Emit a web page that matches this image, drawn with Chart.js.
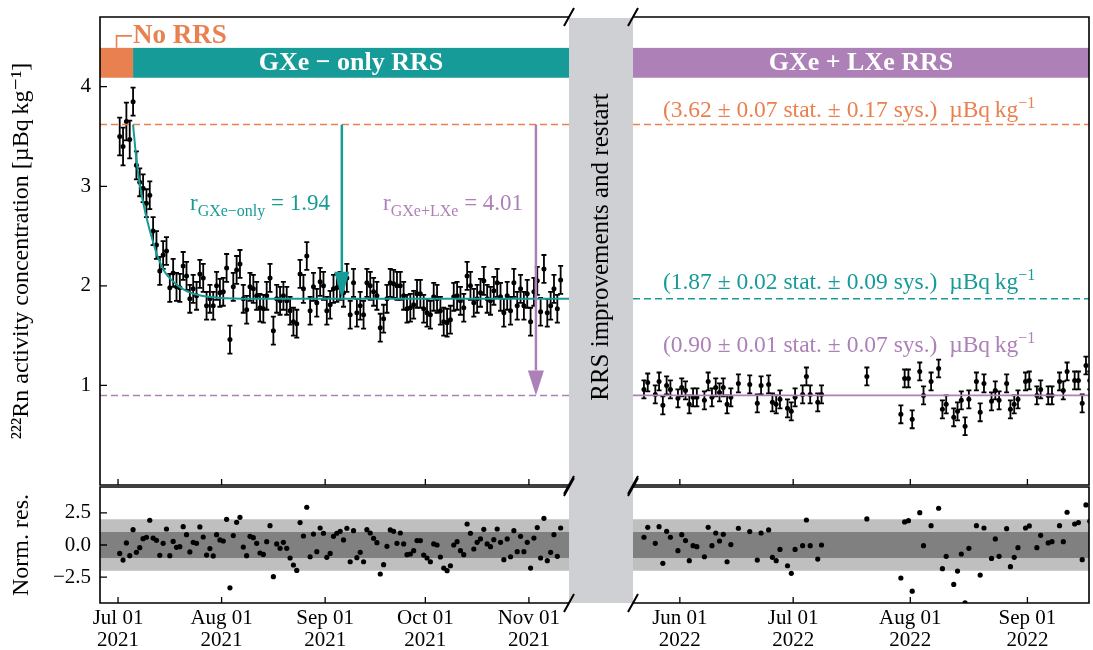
<!DOCTYPE html>
<html>
<head>
<meta charset="utf-8">
<script src="https://cdn.jsdelivr.net/npm/chart.js@4.4.1/dist/chart.umd.min.js"></script>
<style>
  html, body { margin: 0; padding: 0; background: #fff; }
  #wrap { position: relative; width: 1093px; height: 650px; }
  #wrap canvas { position: absolute; left: 0; top: 0; }
</style>
</head>
<body>
<div id="wrap">
  <canvas id="topLeft" width="1093" height="650"></canvas>
  <canvas id="topRight" width="1093" height="650"></canvas>
  <canvas id="resLeft" width="1093" height="650"></canvas>
  <canvas id="resRight" width="1093" height="650"></canvas>
</div>
<script>
// x values are days counted from 2021-07-01
const leftRange = [-5.4, 135];
const rightRange = [322.6, 443.3];
const leftTickDays = [0, 31, 62, 92, 123];
const leftTickLabels = [['Jul 01', '2021'], ['Aug 01', '2021'], ['Sep 01', '2021'], ['Oct 01', '2021'], ['Nov 01', '2021']];
const rightTickDays = [335, 365, 396, 427];
const rightTickLabels = [['Jun 01', '2022'], ['Jul 01', '2022'], ['Aug 01', '2022'], ['Sep 01', '2022']];
const concTicks = [1, 2, 3, 4];
const concTickLabels = ['1', '2', '3', '4'];
const resTicks = [-2.5, 0, 2.5];
const resTickLabels = ['\u22122.5', '0.0', '2.5'];

// 2021 run (No RRS, then GXe-only RRS)
const leftDays = [
  0.5, 1.5, 2.5, 3.5, 4.5, 5.5, 6.5, 7.5, 8.5, 9.5,
  10.5, 11.5, 12.5, 13.5, 14.5, 15.5, 16.5, 17.5, 18.5, 19.5,
  20.5, 21.5, 22.5, 23.5, 24.5, 25.5, 26.5, 27.5, 28.5, 29.5,
  30.5, 31.5, 32.5, 33.5, 34.5, 35.5, 36.5, 37.5, 38.5, 39.5,
  40.5, 41.5, 42.5, 43.5, 44.5, 45.5, 46.5, 47.5, 48.5, 49.5,
  50.5, 51.5, 52.5, 53.5, 54.5, 55.5, 56.5, 57.5, 58.5, 59.5,
  60.5, 61.5, 62.5, 63.5, 64.5, 65.5, 66.5, 67.5, 68.5, 69.5,
  70.5, 71.5, 72.5, 73.5, 74.5, 75.5, 76.5, 77.5, 78.5, 79.5,
  80.5, 81.5, 82.5, 83.5, 84.5, 85.5, 86.5, 87.5, 88.5, 89.5,
  90.5, 91.5, 92.5, 93.5, 94.5, 95.5, 96.5, 97.5, 98.5, 99.5,
  100.5, 101.5, 102.5, 103.5, 104.5, 105.5, 106.5, 107.5, 108.5, 109.5,
  110.5, 111.5, 112.5, 113.5, 114.5, 115.5, 116.5, 117.5, 118.5, 119.5,
  120.5, 121.5, 122.5, 123.5, 124.5, 125.5, 126.5, 127.5, 128.5, 129.5,
  130.5, 131.5, 132.5
];
const leftValues = [
  3.50, 3.40, 3.65, 3.47, 3.85, 3.21, 3.04, 2.98, 2.83, 2.91,
  2.55, 2.41, 2.15, 2.31, 2.35, 1.98, 2.13, 1.99, 1.98, 2.20,
  2.10, 1.87, 1.97, 1.90, 2.12, 2.08, 1.80, 1.87, 1.80, 2.00,
  1.93, 1.94, 2.18, 1.46, 1.99, 2.16, 2.22, 1.87, 1.76, 1.99,
  1.97, 1.90, 1.78, 1.77, 1.90, 2.08, 1.55, 1.87, 1.85, 1.90,
  1.85, 1.75, 1.64, 1.62, 2.12, 1.97, 2.30, 1.75, 1.99, 1.83,
  2.04, 2.00, 1.75, 1.81, 1.97, 1.98, 2.00, 1.93, 2.08, 1.71,
  2.03, 1.73, 1.80, 1.71, 2.03, 2.00, 1.94, 1.90, 1.58, 1.67,
  1.87, 2.03, 2.02, 2.00, 2.00, 1.90, 1.77, 1.78, 1.81, 1.92,
  1.92, 1.77, 1.73, 1.71, 1.89, 1.87, 1.75, 1.64, 1.63, 1.66,
  1.89, 1.90, 1.85, 1.78, 2.10, 2.00, 1.83, 1.87, 1.93, 2.05,
  1.87, 1.85, 1.95, 2.03, 1.89, 1.73, 1.90, 1.75, 2.03, 1.80,
  1.97, 1.80, 1.92, 1.64, 1.94, 2.05, 1.74, 2.17, 1.73, 1.80,
  1.97, 1.77, 2.06
];
const leftResiduals = [
  -0.65, -1.17, 0.16, -0.83, 1.19, -0.57, -0.21, 0.49, 0.60, 1.92,
  0.54, 0.36, -0.80, 0.13, 1.24, -0.83, 0.28, -0.18, -0.13, 1.42,
  0.80, -0.54, 0.21, 0.13, 1.40, 0.62, -0.78, -0.28, -0.85, 0.80,
  0.39, 0.31, 1.99, -3.32, 0.73, 1.76, 2.15, -0.16, -0.83, 0.67,
  0.57, 0.13, -0.62, -0.73, 0.26, 1.50, -2.46, 0.08, -0.26, 0.21,
  -0.26, -1.01, -1.55, -1.97, 1.74, 0.70, 2.93, -0.91, 0.85, -0.52,
  1.32, 0.91, -0.96, -0.65, 0.67, 0.91, 1.06, 0.39, 1.30, -1.30,
  1.11, -0.98, -0.57, -1.30, 1.19, 0.93, 0.52, 0.18, -2.25, -1.53,
  -0.10, 1.17, 1.06, 0.13, 0.93, 0.08, -0.75, -0.70, -0.44, 0.34,
  0.34, -0.78, -1.01, -1.30, 0.08, 0.00, -0.93, -1.79, -1.99, -1.61,
  0.00, 0.26, -0.44, -0.75, 1.63, 0.91, -0.31, 0.21, 0.47, 1.22,
  0.08, -0.13, 0.41, 1.24, 0.21, -1.14, 0.47, -0.91, 1.11, -0.52,
  0.67, -0.52, 0.21, -1.79, 0.54, 1.35, -1.01, 2.07, -1.22, -0.57,
  0.80, -0.88, 1.32
];

// 2022 run (GXe + LXe RRS)
const rightDays = [
  325.5, 326.5, 328.5, 329.5, 330.5, 331.5, 332.5, 334.5, 335.5, 336.5,
  337.5, 338.5, 339.5, 341.5, 342.5, 343.5, 344.5, 345.5, 346.5, 347.5,
  348.5, 350.5, 353.5, 355.5, 356.5, 358.5, 359.5, 360.5, 361.5, 363.5,
  364.5, 365.5, 367.5, 368.5, 369.5, 371.5, 372.5, 384.5, 393.5, 394.5,
  395.5, 396.5, 398.5, 399.5, 401.5, 403.5, 404.5, 405.5, 407.5, 408.5,
  409.5, 410.5, 411.5, 413.5, 414.5, 415.5, 417.5, 418.5, 419.5, 421.5,
  422.5, 423.5, 424.5, 426.5, 427.5, 429.5, 430.5, 432.5, 433.5, 435.5,
  436.5, 437.5, 439.5, 440.5, 441.5, 442.5, 443.5
];
const rightValues = [
  0.96, 1.03, 0.91, 1.04, 0.80, 1.00, 0.96, 0.87, 0.98, 0.95,
  0.81, 0.88, 0.88, 0.85, 1.04, 0.88, 0.98, 0.93, 0.98, 0.81,
  0.88, 1.02, 1.01, 0.82, 1.00, 1.01, 0.83, 0.81, 0.86, 0.77,
  0.74, 0.88, 0.91, 1.09, 0.91, 0.83, 0.91, 1.09, 0.71, 1.07,
  1.07, 0.66, 1.14, 0.90, 1.04, 1.17, 0.76, 0.81, 0.68, 0.74,
  0.85, 0.59, 0.86, 1.04, 0.73, 1.02, 0.84, 0.95, 0.85, 1.02,
  0.76, 0.81, 0.86, 1.04, 1.05, 0.90, 0.96, 0.90, 0.90, 1.04,
  0.95, 1.14, 1.05, 1.05, 0.82, 1.20, 1.05
];
const rightResiduals = [
  0.60, 1.37, 0.13, 1.42, -1.42, 1.06, 0.60, -0.44, 0.80, 0.34,
  -1.22, -0.05, -0.13, -0.91, 1.37, -0.05, 0.93, 0.31, 0.83, -1.30,
  0.03, 1.30, 1.04, -1.17, 0.93, 1.17, -0.96, -1.22, -0.34, -1.61,
  -2.20, -0.34, -0.05, 1.94, -0.05, -1.09, 0.00, 2.02, -2.56, 1.79,
  1.89, -3.58, 2.51, -0.05, 1.50, 2.85, -1.84, -0.88, -3.06, -2.02,
  -0.70, -4.48, -0.26, 1.50, -2.33, 1.32, -1.04, 0.47, -0.88, 1.27,
  -1.68, -0.96, -0.21, 1.32, 1.48, -0.21, 0.75, 0.16, 0.26, 1.50,
  0.26, 2.54, 1.63, 1.74, -1.14, 3.11, 1.84
];

// typical error bar half-lengths per phase
const noRrsErr = 0.19;
const gxeErr = 0.14;
const lxeErr = 0.09;

// GXe-only fit curve
const fitDays = [4.5, 5.5, 6.5, 7.5, 9, 10.5, 12, 14, 16, 18, 21, 25, 30, 40, 135];
const fitValues = [3.62, 3.27, 3.02, 2.84, 2.62, 2.44, 2.28, 2.14, 2.06, 2.00, 1.94, 1.90, 1.88, 1.87, 1.87];

const gxeStart = 4.5;
const phaseNames = ['No RRS', 'GXe \u2212 only RRS', 'GXe + LXe RRS'];
const levelValues = [3.62, 1.87, 0.90];
const levelStat = ['0.07', '0.02', '0.01'];
const levelSys = ['0.17', '0.09', '0.07'];
const reductionFactors = ['1.94', '4.01'];
const sigmaBands = [2, 1];

const ORANGE = '#e9804f', TEAL = '#179b98', PURPLE = '#ad80b8', GAP = '#cfd0d4';
const FONT = '"Liberation Serif", "DejaVu Serif", serif';
Chart.defaults.font.family = FONT;
Chart.defaults.color = '#000';

// panel frame in pixels
const PANEL = { left: 100, gapL: 569, gapR: 633, right: 1092, top: 17, mid: 485, resTop: 487, bottom: 603 };

const pts = (xs, ys) => xs.map((x, i) => ({ x, y: ys[i] }));
const hline = (range, v) => [{ x: range[0], y: v }, { x: range[1], y: v }];

function richText(ctx, parts, x, y, align, size, color, weight) {
  const fontOf = k => `${weight || ''} ${k ? Math.round(size * 0.7) : size}px ${FONT}`;
  let w = 0;
  parts.forEach(([t, k]) => { ctx.font = fontOf(k); w += ctx.measureText(t).width; });
  let cx = align === 'center' ? x - w / 2 : align === 'right' ? x - w : x;
  ctx.fillStyle = color;
  ctx.textAlign = 'left';
  ctx.textBaseline = 'alphabetic';
  parts.forEach(([t, k]) => {
    ctx.font = fontOf(k);
    const dy = k === 1 ? -size * 0.38 : k === -1 ? size * 0.25 : 0;
    ctx.fillText(t, cx, y + dy);
    cx += ctx.measureText(t).width;
  });
}

function arrowDown(ctx, x, y0, y1, color, headLen, headW) {
  ctx.strokeStyle = color; ctx.fillStyle = color; ctx.lineWidth = 2.5;
  ctx.beginPath(); ctx.moveTo(x, y0); ctx.lineTo(x, y1 - headLen); ctx.stroke();
  ctx.beginPath();
  ctx.moveTo(x - headW / 2, y1 - headLen);
  ctx.lineTo(x + headW / 2, y1 - headLen);
  ctx.lineTo(x, y1);
  ctx.closePath(); ctx.fill();
}

// spines and inward ticks
const frame = {
  id: 'frame',
  afterDraw(chart, args, o) {
    const { ctx, chartArea: a } = chart;
    ctx.save();
    ctx.strokeStyle = '#000'; ctx.lineWidth = 1.6;
    ctx.beginPath();
    if (o.sides.includes('left')) { ctx.moveTo(a.left, a.top - 0.8); ctx.lineTo(a.left, a.bottom + 0.8); }
    if (o.sides.includes('right')) { ctx.moveTo(a.right, a.top - 0.8); ctx.lineTo(a.right, a.bottom + 0.8); }
    if (o.sides.includes('top')) { ctx.moveTo(a.left, a.top); ctx.lineTo(a.right, a.top); }
    if (o.sides.includes('bottom')) { ctx.moveTo(a.left, a.bottom); ctx.lineTo(a.right, a.bottom); }
    ctx.stroke();
    ctx.lineWidth = 1.3;
    ctx.beginPath();
    (o.xTicks || []).forEach(v => {
      const px = chart.scales.x.getPixelForValue(v);
      ctx.moveTo(px, a.bottom); ctx.lineTo(px, a.bottom - 6);
    });
    (o.yTicks || []).forEach(v => {
      const py = chart.scales.y.getPixelForValue(v);
      ctx.moveTo(a.left, py); ctx.lineTo(a.left + 7, py);
    });
    ctx.stroke();
    ctx.restore();
  }
};

const errorBars = {
  id: 'errorBars',
  beforeDatasetsDraw(chart) {
    const { ctx, chartArea: a } = chart, sx = chart.scales.x, sy = chart.scales.y;
    ctx.save();
    ctx.beginPath(); ctx.rect(a.left, a.top, a.right - a.left, a.bottom - a.top); ctx.clip();
    ctx.strokeStyle = '#000'; ctx.lineWidth = 1.8;
    chart.data.datasets.forEach(ds => {
      if (!ds.yErr) return;
      ds.data.forEach(p => {
        const e = ds.yErr(p);
        const px = sx.getPixelForValue(p.x);
        const y0 = sy.getPixelForValue(p.y - e), y1 = sy.getPixelForValue(p.y + e);
        ctx.beginPath();
        ctx.moveTo(px, y0); ctx.lineTo(px, y1);
        ctx.moveTo(px - 2.5, y0); ctx.lineTo(px + 2.5, y0);
        ctx.moveTo(px - 2.5, y1); ctx.lineTo(px + 2.5, y1);
        ctx.stroke();
      });
    });
    ctx.restore();
  }
};

const phaseBar = [4.09, 4.39];

const levelText = i => [[`(${levelValues[i].toFixed(2)} \u00b1 ${levelStat[i]} stat. \u00b1 ${levelSys[i]} sys.)  \u00b5Bq\u2009kg`, 0], ['\u22121', 1]];

const topLeftDecor = {
  id: 'topLeftDecor',
  afterDatasetsDraw(chart) {
    const { ctx, chartArea: a } = chart, sx = chart.scales.x, sy = chart.scales.y;
    const yTop = sy.getPixelForValue(phaseBar[1]), yBot = sy.getPixelForValue(phaseBar[0]);
    const xSplit = sx.getPixelForValue(gxeStart);
    ctx.save();
    ctx.fillStyle = ORANGE; ctx.fillRect(a.left, yTop, xSplit - a.left, yBot - yTop);
    ctx.fillStyle = TEAL; ctx.fillRect(xSplit, yTop, a.right - xSplit, yBot - yTop);
    richText(ctx, [[phaseNames[1], 0]], (xSplit + a.right) / 2, yTop + 22, 'center', 26, '#fff', 'bold');

    const xMid = (a.left + xSplit) / 2;
    ctx.strokeStyle = ORANGE; ctx.lineWidth = 1.6;
    ctx.beginPath(); ctx.moveTo(xMid, yTop); ctx.lineTo(xMid, yTop - 12); ctx.lineTo(xSplit - 1, yTop - 12); ctx.stroke();
    richText(ctx, [[phaseNames[0], 0]], xSplit, yTop - 5, 'left', 27, ORANGE, 'bold');

    arrowDown(ctx, sx.getPixelForValue(67), sy.getPixelForValue(levelValues[0]), sy.getPixelForValue(levelValues[1]), TEAL, 27, 15);
    arrowDown(ctx, sx.getPixelForValue(125.1), sy.getPixelForValue(levelValues[0]), sy.getPixelForValue(levelValues[2]), PURPLE, 25, 16);

    richText(ctx, [['r', 0], ['GXe\u2212only', -1], [' = ' + reductionFactors[0], 0]],
      sx.getPixelForValue(42.5), sy.getPixelForValue(2.76), 'center', 23, TEAL);
    richText(ctx, [['r', 0], ['GXe+LXe', -1], [' = ' + reductionFactors[1], 0]],
      sx.getPixelForValue(100.3), sy.getPixelForValue(2.76), 'center', 23, PURPLE);
    ctx.restore();
  }
};

const topRightDecor = {
  id: 'topRightDecor',
  afterDatasetsDraw(chart) {
    const { ctx, chartArea: a } = chart, sx = chart.scales.x, sy = chart.scales.y;
    const yTop = sy.getPixelForValue(phaseBar[1]), yBot = sy.getPixelForValue(phaseBar[0]);
    ctx.save();
    ctx.fillStyle = PURPLE; ctx.fillRect(a.left, yTop, a.right - a.left, yBot - yTop);
    richText(ctx, [[phaseNames[2], 0]], (a.left + a.right) / 2, yTop + 22, 'center', 26, '#fff', 'bold');
    const cx = sx.getPixelForValue(379.8);
    richText(ctx, levelText(0), cx, sy.getPixelForValue(3.70), 'center', 23.5, ORANGE);
    richText(ctx, levelText(1), cx, sy.getPixelForValue(1.97), 'center', 23.5, TEAL);
    richText(ctx, levelText(2), cx, sy.getPixelForValue(1.34), 'center', 23.5, PURPLE);
    ctx.restore();
  }
};

// gap between the two runs, drawn over everything
const gapOverlay = {
  id: 'gapOverlay',
  afterDraw(chart) {
    const ctx = chart.ctx;
    ctx.save();
    ctx.fillStyle = GAP;
    ctx.fillRect(PANEL.gapL, PANEL.top + 1, PANEL.gapR - PANEL.gapL, PANEL.bottom - PANEL.top - 1);
    ctx.strokeStyle = '#000'; ctx.lineWidth = 2;
    ctx.beginPath();
    [PANEL.top, PANEL.mid, PANEL.resTop, PANEL.bottom].forEach(yy => {
      [PANEL.gapL, PANEL.gapR].forEach(xx => {
        ctx.moveTo(xx - 5, yy + 9); ctx.lineTo(xx + 5, yy - 9);
      });
    });
    ctx.stroke();
    ctx.translate((PANEL.gapL + PANEL.gapR) / 2, 247);
    ctx.rotate(-Math.PI / 2);
    ctx.fillStyle = '#000'; ctx.font = `25px ${FONT}`;
    ctx.textAlign = 'center'; ctx.textBaseline = 'middle';
    ctx.fillText('RRS improvements and restart', 0, 0);
    ctx.restore();
  }
};

function dateAxis(range, tickDays, tickLabels) {
  return {
    type: 'linear', min: range[0], max: range[1],
    grid: { display: false, drawTicks: false }, border: { display: false },
    afterBuildTicks: s => { s.ticks = tickDays.map(v => ({ value: v })); },
    ticks: { autoSkip: false, maxRotation: 0, minRotation: 0, padding: 4, font: { size: 21, lineHeight: 1.05 }, callback: (v, i) => tickLabels[i] },
    afterFit: s => { s.height = 650 - PANEL.bottom; s.paddingLeft = 0; s.paddingRight = 0; }
  };
}
function valueAxis(min, max, tickVals, tickLabels, title) {
  return {
    type: 'linear', min, max, position: 'left',
    grid: { display: false, drawTicks: false }, border: { display: false },
    afterBuildTicks: s => { s.ticks = tickVals.map(v => ({ value: v })); },
    ticks: { autoSkip: false, padding: 9, font: { size: 21 }, callback: (v, i) => tickLabels[i] },
    title: { display: true, text: title, font: { size: 24 }, padding: { top: 7, bottom: 0 } },
    afterFit: s => { s.width = PANEL.left; s.paddingTop = 0; s.paddingBottom = 0; }
  };
}
const hidden = (min, max) => ({ type: 'linear', min, max, display: false });

function options(pad, x, y, pluginOpts) {
  return {
    responsive: false, animation: false, devicePixelRatio: 1, events: [],
    layout: { padding: pad },
    plugins: Object.assign({ legend: { display: false }, tooltip: { enabled: false } }, pluginOpts),
    scales: { x, y }
  };
}

const dots = (data, r, extra) => Object.assign({
  data, showLine: false, pointRadius: r, pointBackgroundColor: '#000', pointBorderWidth: 0, order: 5
}, extra);
const line = (data, color, dash, width, order) => ({
  data, borderColor: color, borderDash: dash, borderWidth: width, pointRadius: 0, fill: false, order
});
const band = (range, s, color, order) => ({
  data: hline(range, s), borderWidth: 0, pointRadius: 0, backgroundColor: color, fill: { value: -s }, order
});

new Chart(document.getElementById('topLeft'), {
  type: 'line',
  data: { datasets: [
    dots(pts(leftDays, leftValues), 2.5, { yErr: p => (p.x < gxeStart ? noRrsErr : gxeErr) }),
    Object.assign(line(pts(fitDays, fitValues), TEAL, [], 2, 1), { cubicInterpolationMode: 'monotone' }),
    line(hline(leftRange, levelValues[0]), ORANGE, [7, 4], 1.5, 2),
    line(hline(leftRange, levelValues[2]), PURPLE, [7, 4], 1.5, 2)
  ]},
  options: options({ left: 0, top: PANEL.top, right: 1093 - PANEL.gapL, bottom: 650 - PANEL.mid },
    hidden(leftRange[0], leftRange[1]),
    valueAxis(0, 4.7, concTicks, concTickLabels, '\u00b2\u00b2\u00b2Rn activity concentration [\u00b5Bq\u2009kg\u207b\u00b9]'),
    { frame: { sides: ['left', 'top', 'bottom'], xTicks: leftTickDays, yTicks: concTicks } }),
  plugins: [errorBars, frame, topLeftDecor]
});

new Chart(document.getElementById('topRight'), {
  type: 'line',
  data: { datasets: [
    dots(pts(rightDays, rightValues), 2.5, { yErr: () => lxeErr }),
    line(hline(rightRange, levelValues[0]), ORANGE, [7, 4], 1.5, 2),
    line(hline(rightRange, levelValues[1]), TEAL, [7, 4], 1.5, 2),
    line(hline(rightRange, levelValues[2]), PURPLE, [], 1.6, 1)
  ]},
  options: options({ left: PANEL.gapR, top: PANEL.top, right: 1093 - PANEL.right, bottom: 650 - PANEL.mid },
    hidden(rightRange[0], rightRange[1]), hidden(0, 4.7),
    { frame: { sides: ['top', 'bottom', 'right'], xTicks: rightTickDays } }),
  plugins: [errorBars, frame, topRightDecor]
});

new Chart(document.getElementById('resLeft'), {
  type: 'line',
  data: { datasets: [
    dots(pts(leftDays, leftResiduals), 2.6, { order: 1 }),
    band(leftRange, sigmaBands[1], '#808080', 4),
    band(leftRange, sigmaBands[0], '#bfbfbf', 5)
  ]},
  options: options({ left: 0, top: PANEL.resTop, right: 1093 - PANEL.gapL, bottom: 0 },
    dateAxis(leftRange, leftTickDays, leftTickLabels),
    valueAxis(-4.5, 4.5, resTicks, resTickLabels, 'Norm. res.'),
    { frame: { sides: ['left', 'top', 'bottom'], xTicks: leftTickDays, yTicks: resTicks } }),
  plugins: [frame]
});

new Chart(document.getElementById('resRight'), {
  type: 'line',
  data: { datasets: [
    dots(pts(rightDays, rightResiduals), 2.6, { order: 1 }),
    band(rightRange, sigmaBands[1], '#808080', 4),
    band(rightRange, sigmaBands[0], '#bfbfbf', 5)
  ]},
  options: options({ left: PANEL.gapR, top: PANEL.resTop, right: 1093 - PANEL.right, bottom: 0 },
    dateAxis(rightRange, rightTickDays, rightTickLabels),
    hidden(-4.5, 4.5),
    { frame: { sides: ['top', 'bottom', 'right'], xTicks: rightTickDays } }),
  plugins: [frame, gapOverlay]
});
</script>
</body>
</html>
